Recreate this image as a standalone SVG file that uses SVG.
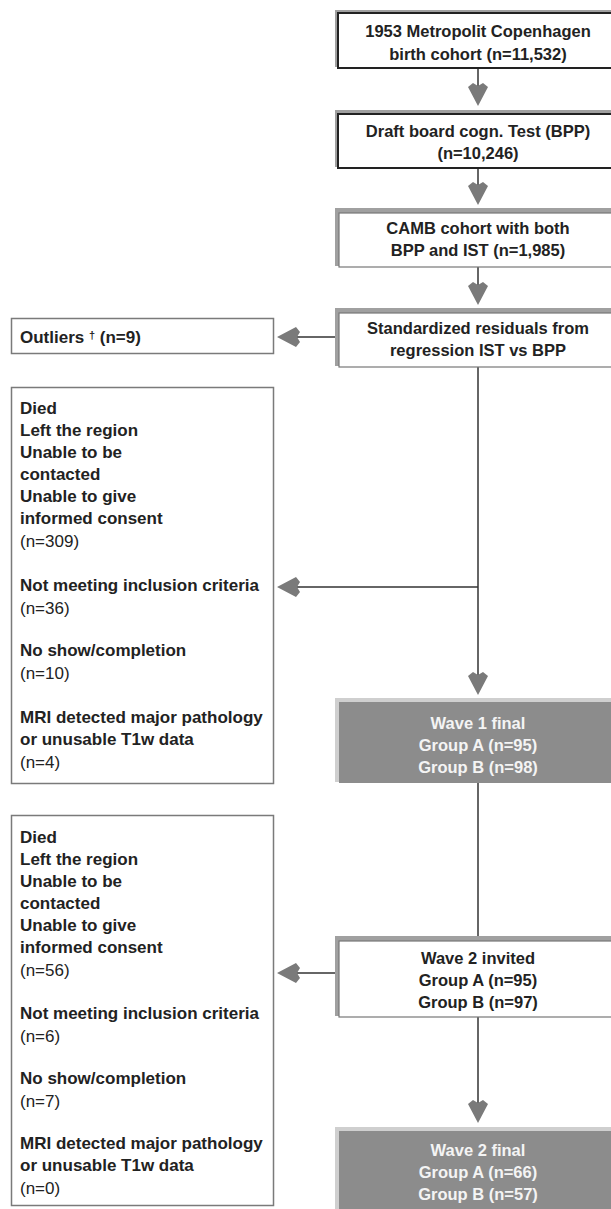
<svg xmlns="http://www.w3.org/2000/svg" width="611" height="1209" viewBox="0 0 611 1209">
<defs>
<style>
text{font-family:"Liberation Sans",Arial,sans-serif;fill:#222;}
.b{font-weight:bold;font-size:16.5px;}
.c{text-anchor:middle;}
.l{font-weight:bold;font-size:17px;}
.r{font-weight:normal;font-size:17px;}
.w{fill:#f4f4f4;}
.shadow{fill:#a0a0a0;}
.dark{fill:#fff;stroke:#222;stroke-width:2;}
.light{fill:#fff;stroke:#777;stroke-width:1.2;}
.gray{fill:#8c8c8c;}
.gshadow{fill:#cfcfcf;}
.side{fill:#fff;stroke:#7a7a7a;stroke-width:1.5;}
.line{stroke:#333;stroke-width:1.5;fill:none;}
.head{fill:#7a7a7a;}
</style>
</defs>
<g id="connectors">
<line class="line" x1="478" y1="68" x2="478" y2="97"/>
<path class="head" d="M468,87 L473,83 L478,86 L483,83 L488,87 L478,106 Z"/>
<line class="line" x1="478" y1="168" x2="478" y2="196"/>
<path class="head" d="M468,186 L473,182 L478,185 L483,182 L488,186 L478,205 Z"/>
<line class="line" x1="478" y1="267" x2="478" y2="296"/>
<path class="head" d="M468,286 L473,282 L478,285 L483,282 L488,286 L478,305 Z"/>
<line class="line" x1="478" y1="367" x2="478" y2="686"/>
<path class="head" d="M468,676 L473,672 L478,675 L483,672 L488,676 L478,695 Z"/>
<line class="line" x1="338" y1="337" x2="286" y2="337"/>
<path class="head" d="M296,327 L300,332 L297,337 L300,342 L296,347 L277,337 Z"/>
<line class="line" x1="478" y1="587" x2="286" y2="587"/>
<path class="head" d="M296,577 L300,582 L297,587 L300,592 L296,597 L277,587 Z"/>
<line class="line" x1="478" y1="783" x2="478" y2="938"/>
<line class="line" x1="338" y1="973" x2="286" y2="973"/>
<path class="head" d="M296,963 L300,968 L297,973 L300,978 L296,983 L277,973 Z"/>
<line class="line" x1="478" y1="1017" x2="478" y2="1114"/>
<path class="head" d="M468,1104 L473,1100 L478,1103 L483,1100 L488,1104 L478,1123 Z"/>
</g>
<g id="n1">
<rect class="shadow" x="335" y="10" width="285" height="57"/>
<rect class="dark" x="338" y="13" width="282" height="55"/>
<text class="b c" x="478" y="37">1953 Metropolit Copenhagen</text>
<text class="b c" x="478" y="60">birth cohort (n=11,532)</text>
</g>
<g id="n2">
<rect class="shadow" x="335" y="110" width="285" height="57"/>
<rect class="dark" x="338" y="114" width="282" height="54"/>
<text class="b c" x="478" y="137">Draft board cogn. Test (BPP)</text>
<text class="b c" x="478" y="159">(n=10,246)</text>
</g>
<g id="n3">
<rect class="shadow" x="335" y="208" width="285" height="58"/>
<rect class="light" x="339" y="213" width="281" height="54"/>
<text class="b c" x="478" y="234">CAMB cohort with both</text>
<text class="b c" x="478" y="256">BPP and IST (n=1,985)</text>
</g>
<g id="n4">
<rect class="shadow" x="335" y="308" width="285" height="58"/>
<rect class="light" x="339" y="313" width="281" height="54"/>
<text class="b c" x="478" y="334">Standardized residuals from</text>
<text class="b c" x="478" y="356">regression IST vs BPP</text>
</g>
<g id="outliers">
<rect class="side" x="11.5" y="318.5" width="262" height="35"/>
<text class="l" x="20" y="343">Outliers <tspan font-size="11" dy="-4">†</tspan><tspan dy="4"> (n=9)</tspan></text>
</g>
<g id="excl1">
<rect class="side" x="11.5" y="387.5" width="262" height="396"/>
<text class="l" x="20" y="414">Died</text>
<text class="l" x="20" y="436">Left the region</text>
<text class="l" x="20" y="458">Unable to be</text>
<text class="l" x="20" y="480">contacted</text>
<text class="l" x="20" y="502">Unable to give</text>
<text class="l" x="20" y="524">informed consent</text>
<text class="r" x="20" y="547">(n=309)</text>
<text class="l" x="20" y="591">Not meeting inclusion criteria</text>
<text class="r" x="20" y="614">(n=36)</text>
<text class="l" x="20" y="656">No show/completion</text>
<text class="r" x="20" y="679">(n=10)</text>
<text class="l" x="20" y="723">MRI detected major pathology</text>
<text class="l" x="20" y="745">or unusable T1w data</text>
<text class="r" x="20" y="768">(n=4)</text>
</g>
<g id="wave1">
<rect class="gshadow" x="335" y="698" width="285" height="84"/>
<rect class="gray" x="339" y="702" width="281" height="81"/>
<text class="b c w" x="478" y="729">Wave 1 final</text>
<text class="b c w" x="478" y="751">Group A (n=95)</text>
<text class="b c w" x="478" y="773">Group B (n=98)</text>
</g>
<g id="excl2">
<rect class="side" x="11.5" y="815.5" width="262" height="390"/>
<text class="l" x="20" y="843">Died</text>
<text class="l" x="20" y="865">Left the region</text>
<text class="l" x="20" y="887">Unable to be</text>
<text class="l" x="20" y="909">contacted</text>
<text class="l" x="20" y="931">Unable to give</text>
<text class="l" x="20" y="953">informed consent</text>
<text class="r" x="20" y="976">(n=56)</text>
<text class="l" x="20" y="1019">Not meeting inclusion criteria</text>
<text class="r" x="20" y="1042">(n=6)</text>
<text class="l" x="20" y="1084">No show/completion</text>
<text class="r" x="20" y="1107">(n=7)</text>
<text class="l" x="20" y="1149">MRI detected major pathology</text>
<text class="l" x="20" y="1171">or unusable T1w data</text>
<text class="r" x="20" y="1194">(n=0)</text>
</g>
<g id="wave2inv">
<rect class="shadow" x="335" y="936" width="285" height="80"/>
<rect class="light" x="339" y="941" width="281" height="76"/>
<text class="b c" x="478" y="964">Wave 2 invited</text>
<text class="b c" x="478" y="986">Group A (n=95)</text>
<text class="b c" x="478" y="1008">Group B (n=97)</text>
</g>
<g id="wave2fin">
<rect class="gshadow" x="335" y="1127" width="285" height="90"/>
<rect class="gray" x="339" y="1131" width="281" height="90"/>
<text class="b c w" x="478" y="1156">Wave 2 final</text>
<text class="b c w" x="478" y="1178">Group A (n=66)</text>
<text class="b c w" x="478" y="1200">Group B (n=57)</text>
</g>
</svg>
